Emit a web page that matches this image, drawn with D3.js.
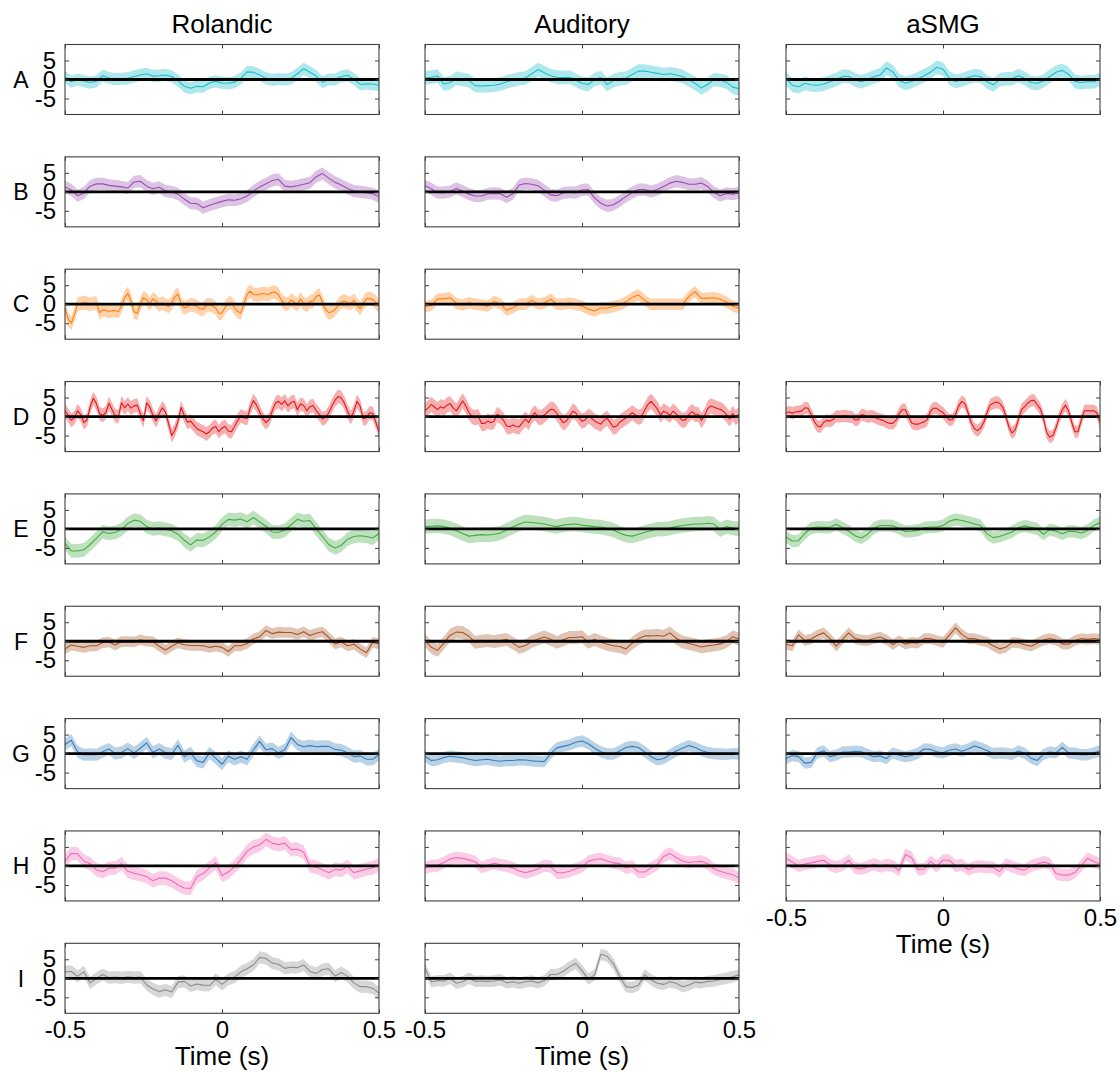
<!DOCTYPE html>
<html>
<head>
<meta charset="utf-8">
<script src="https://cdn.jsdelivr.net/npm/d3@7"></script>
<style>
  body { margin: 0; background: #fff; }
  svg { display: block; }
</style>
</head>
<body>
<svg id="chart" width="1120" height="1072"></svg>
<script>
// ---- labels ----
const regions = ["Rolandic", "Auditory", "aSMG"];
const rowLabels = ["A", "B", "C", "D", "E", "F", "G", "H", "I"];
const yTicks = [-5, 0, 5];
const xTicks = [-0.5, 0, 0.5];
const xTickLabels = ["-0.5", "0", "0.5"];
const xLabel = "Time (s)";

// ---- mean traces, evenly sampled from -0.5 s to 0.5 s ----
const rolandicA = [0.7,-0.6,0,-0.4,-0.8,-0.5,1.0,0.4,0.1,0.2,0.3,0.8,1.2,1.5,0.9,1.0,1.2,0.8,-0.3,-1.8,-2.3,-1.8,-1.9,-0.9,-0.5,-0.9,-1.0,-0.7,0.3,2.0,1.9,1.2,0.3,-0.1,0.1,0,0.3,1.5,2.8,1.9,0.9,-0.7,0,0,0.8,1.1,0.1,-1.3,-1.1,-1.2,-1.5];
const auditoryA = [0.4,0.6,0.9,-1.2,-0.8,0.3,0,-0.3,-1.6,-1.7,-1.6,-1.5,-1.2,-0.6,-0.2,0.2,0.4,1.5,2.6,1.8,1.0,0.6,0.5,0.6,-0.2,-1.0,-1.3,0,0.5,-1.3,-0.3,0.2,0.4,1.3,2.2,2.2,1.9,1.6,1.3,1.5,1.2,0.8,-0.1,-1.0,-2.2,-1.3,0,-0.2,-0.7,-2.0,-2.4];
const asmgA = [0.2,-1.5,-1.9,-1.0,-1.4,-1.5,-1.2,-0.6,0,0.8,0.8,-0.1,-0.6,0,0.7,1.2,3.0,2.0,-0.2,-1.0,-0.5,0.2,1.0,1.9,3.2,2.7,0.4,-0.5,-0.1,0.5,1.0,0.8,-0.6,-1.4,-0.1,0.2,0.2,1.0,0.3,-0.8,-1.0,-0.4,0.8,1.9,2.4,1.4,-0.5,-0.8,-0.6,-0.6,0];

const rolandicB = [1.3,0.5,-1.0,-0.3,1.5,2.1,2.1,1.7,1.5,1.3,1.0,2.6,2.8,1.5,0.8,1.2,0.2,0,-0.6,-1.9,-3.0,-3.1,-4.2,-3.5,-3.0,-2.5,-2.1,-2.2,-1.8,-1.1,0.2,1.3,2.1,3.0,3.3,1.5,1.3,1.6,2.0,2.4,4.0,4.8,3.6,2.5,1.8,0.9,0.2,0,-0.2,-0.5,-1.3];
const auditoryB = [1.6,0.8,-0.2,-0.2,0.1,0.9,0.2,-0.6,-1.1,-1.1,-0.5,-0.4,-0.5,-1.4,-0.5,1.8,2.2,2.0,1.6,0.4,-0.8,-1.0,-0.3,-0.1,-0.2,0.5,0.6,-1.6,-3.0,-3.7,-3.4,-2.4,-1.2,-0.2,0.6,0.6,0.1,0.6,1.4,2.3,2.8,2.5,2.0,2.0,2.3,1.4,-0.1,-1.0,-0.4,-0.6,-0.3];

const rolandicC = [-1,-4.0,-5.0,-2.8,0,0.2,0.4,0.3,-0.1,0.2,0.3,-2.2,-1.5,-1.6,-1.9,-1.7,-1.7,-1.9,-0.5,1.8,2.8,1.0,-2.0,-2.4,0,1.7,1.2,0,1.4,0.8,-0.2,0.3,-0.2,-0.6,0.3,2.0,2.6,0,-1.0,-0.6,-0.1,-0.3,-0.6,-1.2,-1.3,-0.3,-0.1,-0.5,-1.0,-2.4,-2.3,-0.8,0.2,0.3,-1.0,-1.9,-2.3,0.2,2.6,3.4,2.6,2.4,2.6,2.8,2.7,2.6,3.2,3.1,2.5,0.9,0.2,0.1,1.1,0.5,-0.2,1.4,0.2,-0.3,0.7,0.8,2.0,2.4,0.5,-1.5,-2.2,-2.0,-1.4,-0.3,0.6,0.8,0.4,0.2,1.0,-0.2,-1.2,0.3,1.4,1.5,1.2,0.5,-0.6];
const auditoryC = [-0.6,-0.3,1.4,1.4,1.7,0.2,-0.2,0.4,0,-0.2,-0.5,0.7,0.1,-1.6,-0.9,0,0,1.0,0,0.3,1.3,0,0,0.3,-0.1,-0.5,-1.3,-1.8,-1.0,-1.0,-0.6,-0.2,0.6,1.8,2.4,1.0,-0.1,0,0,0,0,-0.1,2.0,3.3,1.5,1.6,1.7,1.3,0.6,-0.5,-1.0];

const rolandicD = [1.5,0.3,-1.0,-0.3,1.5,0.5,-1.6,-0.9,2.5,4.8,3.4,0.8,0.3,1.0,3.5,1.8,0.2,0,3.6,2.3,3.3,2.2,2.8,3.0,0.7,-1.1,3.6,2.5,0.3,-1.1,0.8,2.3,1.2,-1.9,-5.0,-3.6,-1.2,2.4,0.2,-1.5,-1.2,-2.2,-3.2,-3.6,-4.0,-4.6,-4.0,-3.0,-2.6,-4.0,-3.0,-2.6,-3.8,-4.0,-2.6,-1.0,0.2,-0.3,-0.5,2.3,4.2,3.0,1.2,-0.6,-1.6,-0.8,1.5,3.5,4.0,3.2,4.1,2.8,3.7,4.0,1.8,3.3,2.9,1.5,2.6,2.9,1.5,0.6,-0.6,-0.2,1.0,2.8,4.3,5.3,4.9,3.5,1.3,-0.3,1.4,4.0,2.7,-0.6,-0.3,1.0,0.8,-1.5,-4.0];
const auditoryD = [1.5,2.3,3.2,2.5,1.8,2.6,2.2,3.0,3.4,2.2,1.5,2.8,4.1,2.8,1.0,0,-0.3,0,-1.8,-1.8,-1.2,-1.6,-1.2,0.6,-0.1,-1.0,-2.5,-2.7,-2.2,-2.6,-2.7,-1.6,-0.7,-1.6,0.1,1.0,-0.1,-0.3,0.4,1.2,1.9,1.8,0.8,-0.5,-1.6,-1.2,0,1.4,1.0,-0.3,-1.2,-0.9,0.1,-0.4,-1.2,-1.6,-2.0,-1.0,-0.4,-1.6,-2.8,-2.5,-1.5,-0.9,-0.3,0.3,1.0,0.4,-0.2,0.2,1.7,3.2,4.0,3.0,2.0,0.4,1.4,1.0,0.3,1.4,0.7,-0.3,-1.0,-0.8,0.5,1.3,0.6,0.6,-1.0,0.1,2.1,2.8,2.5,2.1,1.9,1.4,0.5,-0.6,0.8,-0.3,0.6];
const asmgD = [1.0,1.2,0.9,1.2,1.3,1.5,2.3,2.2,0.6,-1.3,-2.5,-2.7,-1.5,-1.0,-1.2,-0.8,0.1,0,0.1,0.2,0,-0.1,-0.9,-0.8,0.5,0.3,-0.1,0.1,0,-0.5,-0.8,-1.0,-1.5,-1.8,-1.8,-1.0,0.7,1.8,1.8,0,-1.6,-2.0,-2.0,-1.7,-1.4,-0.8,1.4,2.2,2.2,1.5,1.0,0,-0.9,-0.8,0.6,2.8,4.0,3.4,1.0,-1.7,-3.2,-3.7,-3.0,-1.5,1.0,3.0,3.5,3.8,3.5,2.5,0.2,-2.8,-4.3,-3.5,-0.8,1.8,2.6,3.5,4.2,4.3,3.1,2.0,-0.5,-4.2,-5.4,-5.0,-3.0,-0.2,1.8,3.0,1.5,-1.5,-4.0,-4.0,-1.0,1.5,1.6,1.5,1.5,1.0,-1.5];

const rolandicE = [-3.8,-5.8,-5.8,-5.5,-4.1,-2.5,-0.8,-1.2,-0.9,-0.1,1.4,2.3,2.0,0.6,0,0.2,-0.1,-0.5,-1.4,-3.0,-4.2,-2.9,-3.0,-2.1,-0.8,1.2,2.5,2.3,2.6,1.9,3.0,1.8,0.7,-0.8,-0.9,-0.3,1.1,2.5,2.0,2.2,0,-2.0,-4.1,-5.0,-4.3,-2.7,-2.0,-1.8,-2.0,-2.4,-1.2];
const auditoryE = [0.6,0.7,0.8,0.6,0.2,-0.5,-1.2,-1.9,-1.7,-1.5,-1.6,-1.4,-1.1,-0.3,0.5,1.3,1.8,1.7,1.5,1.3,0.9,0.6,1.0,1.2,1.3,1.0,0.8,0.6,0.5,0.1,-0.3,-1.1,-1.7,-1.9,-1.4,-0.9,-0.5,0,-0.1,0.2,0.6,0.9,1.1,1.3,1.3,1.5,1.3,-0.2,0.6,0.2,0];
const asmgE = [-2.1,-3.2,-3.1,-1.2,0.2,0.5,0.4,0.4,1.2,0.3,-0.6,-1.8,-2.4,-1.4,0.2,0.9,0.9,0.8,0.1,-0.7,-0.6,-0.4,0.3,0.5,0.5,0.9,2.0,2.5,2.2,1.8,1.3,0.9,-1.3,-2.3,-2.0,-1.4,-0.8,0.3,0.8,0.4,0,-1.4,-0.2,-0.6,-1.3,-0.6,-0.7,-1.1,-0.4,0.9,1.6];

const rolandicF = [-2.0,-1.0,-1.3,-1.6,-1.2,-1.2,-0.4,-0.2,-1.0,-0.1,-0.1,-0.2,0.4,0,-0.1,-1.3,-2.3,-1.3,-0.4,-0.9,-1.1,-1.1,-1.2,-1.6,-1.3,-1.6,-2.7,-1.2,-1.2,-0.6,0.6,1.2,2.8,2.0,2.4,2.3,2.3,1.8,2.5,1.5,2.1,2.5,1.0,-0.7,-0.2,-1.2,-0.8,-2.0,-3.0,-0.3,-0.7];
const auditoryF = [0.2,-1.6,-2.4,-0.5,1.6,2.4,2.3,1.3,-0.3,0,0.2,-0.1,0.2,0.5,-0.5,-1.6,-1.1,-0.1,0.6,1.1,0.5,-0.3,0.4,1.0,1.0,1.2,-0.3,0.5,-0.2,-0.8,-1.2,-1.4,-2.0,-0.5,0.7,1.4,1.4,1.5,1.3,2.2,0.8,-0.2,-0.6,-1.0,-1.5,-1.2,-1.0,-0.7,-0.1,1.2,0.6];
const asmgF = [-0.8,-1.2,1.7,0.2,0.6,1.6,2.2,0.7,-1.3,0.5,2.2,0.7,0.3,0.2,0.7,1.1,0.4,-0.9,0.2,-0.8,-0.3,-0.5,0.7,0.7,0.2,-0.3,1.6,3.5,1.8,0.7,0.7,0.2,-0.2,-1.2,-2.0,-1.6,-0.3,-0.4,-0.9,-1.3,-0.5,0.3,0.7,0.3,-0.7,-0.8,0.2,0.7,0.5,0.7,0.5];

const rolandicG = [2.4,3.5,0.5,-0.3,-0.2,-0.3,0.5,1.2,0,0.3,1.3,0.2,1.4,2.8,0.3,1.2,0.2,-0.1,2.2,-0.8,0.2,-1.9,-2.3,0.2,-1.2,-2.8,-0.7,-1.5,-0.8,-1.5,1.0,3.2,1.0,1.3,0.2,1.0,4.2,2.4,1.8,2.1,1.8,1.9,1.9,1.1,0.9,0.2,-0.8,-0.6,-1.5,-1.5,-0.3];
const auditoryG = [-0.7,-1.8,-1.6,-1.0,-0.7,-0.9,-1.1,-1.5,-1.8,-1.6,-1.5,-1.8,-2.0,-1.8,-1.8,-1.6,-1.7,-1.9,-2.0,-2.1,0,1.5,1.9,2.3,3.0,3.3,2.6,1.4,0.5,-0.1,-0.1,0.7,1.6,1.9,1.6,0.4,-0.8,-1.6,-1.3,-0.3,0.7,1.4,2.1,1.6,0.8,0.3,0,-0.1,-0.2,0,-0.1];
const asmgG = [-1.3,-0.5,-0.8,-2.5,-2.3,0.2,0.7,-0.8,-0.4,0.4,0.4,0.6,0.5,-0.2,-0.8,-0.6,-1.3,0.2,-0.4,-0.8,-0.5,0.1,1.2,1.1,0.5,0.2,0.9,1.2,0.6,1.2,2.0,1.5,0.8,0,0.2,0.1,-0.2,0.7,0.1,-1.2,-1.8,-0.2,0.4,0.2,1.6,0.2,0.1,-0.3,-0.3,0.2,0.7];

const rolandicH = [1.2,3.3,3.2,1.3,0.6,-1.0,-1.5,-0.6,-0.5,0.6,-1.4,-1.9,-2.3,-2.8,-3.9,-3.2,-3.2,-3.9,-5.0,-5.8,-5.9,-2.8,-2.0,-0.5,0.8,-2.5,-1.6,-0.2,1.6,3.9,5.0,5.5,7.0,6.0,5.6,6.0,4.3,4.4,3.6,0,-0.3,-1.0,-1.8,-0.9,-1.1,-0.1,-1.8,-1.3,-0.8,-0.5,0.3];
const auditoryH = [-0.5,0,0.1,0.9,1.8,2.2,2.0,1.6,1.1,-0.4,0.2,0.7,0.3,0,-0.5,-1.3,-1.8,-1.3,-0.8,0.1,-0.2,-1.8,-1.8,-1.4,-0.8,-0.2,1.2,1.7,1.9,1.3,0.8,0.6,-0.5,-0.1,-1.6,-1.6,-0.5,0.4,2.5,3.3,2.2,1.3,0.9,1.1,1.2,0.6,-0.8,-1.4,-1.9,-2.3,-3.1];
const asmgH = [2.0,1.0,0,0.5,0.8,1.2,1.5,0.3,-0.3,0.2,1.5,-0.5,-0.8,-0.2,0.5,-0.2,0.3,0,-1.2,3.0,2.2,-0.9,-0.8,1.2,-0.1,1.5,1.5,0,0.3,-1.0,-0.3,-0.1,-0.3,-0.4,-1.5,0.5,-0.2,-0.8,-1.1,0,0.5,1.0,0.6,-2.0,-2.4,-2.4,-1.7,0,2.0,1.2,0.5];

const rolandicI = [1.7,1.8,0.5,1.7,-1.2,0,1.0,0.2,0.3,0.1,0.4,0.2,0.3,-1.7,-2.8,-3.5,-3.0,-3.6,-1.0,-0.8,-2.0,-1.5,-1.8,-1.9,-0.3,-1.6,-0.3,0.3,1.7,2.5,3.5,5.5,5.2,4.0,3.7,2.6,2.9,2.8,3.5,1.8,1.3,2.3,2.5,0.6,1.5,0.5,-1.2,-2.2,-2.2,-2.6,-3.9];
const auditoryI = [2.6,-0.9,-0.6,-0.7,0,-1.3,-0.9,0,-0.8,-0.7,-0.8,-0.7,-0.4,-1.2,-0.9,-1.3,-0.9,-0.7,-1.2,-0.6,1.0,1.0,1.8,3.0,3.9,2.0,-0.2,0.9,6.3,5.8,3.8,0.5,-2.2,-2.4,-1.8,0.9,-0.4,-1.3,-1.6,-0.9,-1.3,-2.2,-1.8,-1.0,-1.2,-0.8,-0.7,-0.3,0,0.4,0.9];

// ---- standard-error half widths per panel (row x region) ----
const semA = [1.6, 1.8, 1.8];
const semB = [1.6, 1.6, null];
const semC = [1.8, 1.5, null];
const semD = [1.8, 2.0, 1.6];
const semE = [1.8, 1.9, 1.6];
const semF = [1.4, 1.7, 1.4];
const semG = [1.6, 1.5, 1.5];
const semH = [1.8, 1.6, 1.6];
const semI = [1.6, 1.5, null];

// ---- per-row colours ----
const rowColors = ["#17bec8", "#9a4fae", "#ff7f0e", "#e31a1c", "#45aa42", "#a65628", "#377eb8", "#f06eb4", "#8c8c8c"];

const traces = [
  [rolandicA, auditoryA, asmgA],
  [rolandicB, auditoryB, null],
  [rolandicC, auditoryC, null],
  [rolandicD, auditoryD, asmgD],
  [rolandicE, auditoryE, asmgE],
  [rolandicF, auditoryF, asmgF],
  [rolandicG, auditoryG, asmgG],
  [rolandicH, auditoryH, asmgH],
  [rolandicI, auditoryI, null]
];
const sems = [semA, semB, semC, semD, semE, semF, semG, semH, semI];

// ---- layout ----
const colLeft = [65, 425, 786];
const panelW = 314, panelH = 70;
const rowTop0 = 44.5, rowStep = 112.35;
const font = "'Liberation Sans', Arial, Helvetica, sans-serif";
const frameColor = "#404040";

const svg = d3.select("#chart");
const x = d3.scaleLinear().domain([-0.5, 0.5]).range([0, panelW]);
const y = d3.scaleLinear().domain([-9.2, 9.2]).range([panelH, 0]);

// bottom-most row that carries x tick labels, per column
const lastRow = regions.map((_, c) => {
  let last = -1;
  traces.forEach((row, r) => { if (row[c]) last = r; });
  return last;
});

// column titles
regions.forEach((name, c) => {
  svg.append("text")
    .attr("x", colLeft[c] + panelW / 2)
    .attr("y", 33)
    .attr("text-anchor", "middle")
    .attr("font-family", font)
    .attr("font-size", 26)
    .text(name);
});

// row letters
rowLabels.forEach((lab, r) => {
  svg.append("text")
    .attr("x", 21)
    .attr("y", rowTop0 + r * rowStep + y(0))
    .attr("dy", "0.36em")
    .attr("text-anchor", "middle")
    .attr("font-family", font)
    .attr("font-size", 23)
    .text(lab);
});

function styleAxis(g) {
  g.select(".domain").remove();
  g.attr("font-family", font).attr("font-size", 24);
  g.selectAll(".tick line").attr("stroke", frameColor);
  g.selectAll(".tick text").attr("fill", "#000");
}

traces.forEach((row, r) => {
  row.forEach((vals, c) => {
    if (!vals) return;
    const color = rowColors[r];
    const err = sems[r][c];
    const n = vals.length;
    const pts = vals.map((v, i) => ({ t: -0.5 + i / (n - 1), v }));
    const g = svg.append("g")
      .attr("transform", `translate(${colLeft[c]},${rowTop0 + r * rowStep})`);

    const clipId = `clip-${r}-${c}`;
    g.append("clipPath").attr("id", clipId)
      .append("rect").attr("width", panelW).attr("height", panelH);
    const plot = g.append("g").attr("clip-path", `url(#${clipId})`);

    plot.append("path").datum(pts)
      .attr("d", d3.area().x(d => x(d.t)).y0(d => y(d.v - err)).y1(d => y(d.v + err)))
      .attr("fill", color).attr("fill-opacity", 0.35).attr("stroke", "none");

    plot.append("path").datum(pts)
      .attr("d", d3.line().x(d => x(d.t)).y(d => y(d.v)))
      .attr("fill", "none").attr("stroke", color).attr("stroke-width", 1.1)
      .attr("stroke-linejoin", "round");

    // zero reference
    plot.append("line")
      .attr("x1", 0).attr("x2", panelW)
      .attr("y1", y(0)).attr("y2", y(0))
      .attr("stroke", "#000").attr("stroke-width", 2.8);

    // axes with inward ticks
    g.append("g")
      .call(d3.axisLeft(y).tickValues(yTicks).tickSizeInner(-4).tickSizeOuter(0).tickPadding(9)
        .tickFormat(c === 0 ? (d => String(d)) : () => ""))
      .call(styleAxis);
    g.append("g").attr("transform", `translate(${panelW},0)`)
      .call(d3.axisRight(y).tickValues(yTicks).tickSizeInner(-4).tickSizeOuter(0).tickFormat(() => ""))
      .call(styleAxis);
    g.append("g")
      .call(d3.axisTop(x).tickValues(xTicks).tickSizeInner(-4).tickSizeOuter(0).tickFormat(() => ""))
      .call(styleAxis);
    const showX = r === lastRow[c];
    g.append("g").attr("transform", `translate(0,${panelH})`)
      .call(d3.axisBottom(x).tickValues(xTicks).tickSizeInner(-4).tickSizeOuter(0).tickPadding(8)
        .tickFormat(showX ? ((d, i) => xTickLabels[i]) : () => ""))
      .call(styleAxis);

    // frame
    g.append("rect")
      .attr("width", panelW).attr("height", panelH)
      .attr("fill", "none").attr("stroke", frameColor).attr("stroke-width", 1.1);

    if (showX) {
      g.append("text")
        .attr("x", panelW / 2)
        .attr("y", panelH + 52)
        .attr("text-anchor", "middle")
        .attr("font-family", font)
        .attr("font-size", 26)
        .text(xLabel);
    }
  });
});
</script>
</body>
</html>
